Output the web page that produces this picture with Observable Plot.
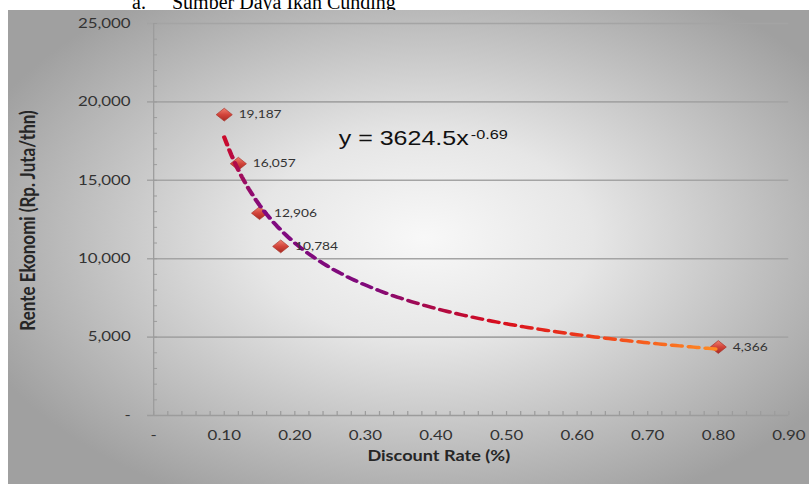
<!DOCTYPE html>
<html><head><meta charset="utf-8">
<script src="https://cdn.jsdelivr.net/npm/d3@7"></script>
<script src="https://cdn.jsdelivr.net/npm/@observablehq/plot@0.6"></script>
<style>
html,body{margin:0;padding:0;background:#fff;}
#wrap{position:relative;width:809px;height:484px;overflow:hidden;}
#title{position:absolute;top:-8px;left:0;width:809px;height:30px;font-family:"Liberation Serif","Times New Roman",serif;font-size:20px;line-height:20px;color:#000;white-space:pre;}
#title span{position:absolute;top:0;}
#bg{position:absolute;left:8px;top:10px;width:801px;height:474px;
  background:radial-gradient(ellipse 60% 62% at 52% 48%, #f8f8f8 0%, #e6e6e6 35%, #a0a0a0 100%);}
#chart{position:absolute;left:0;top:0;width:809px;height:484px;}
</style></head>
<body>
<div id="wrap">
  <div id="title"><span style="left:132px">a.</span><span style="left:172px">Sumber Daya Ikan Cunding</span></div>
  <div id="bg"></div>
  <div id="chart"></div>
</div>
<script>
// ---- data ----
const discountRate = [0.10, 0.12, 0.15, 0.18, 0.80];
const renteEkonomi = [19187, 16057, 12906, 10784, 4366];
const pointLabels = ["19,187", "16,057", "12,906", "10,784", "4,366"];
const xTicks = [0, 0.1, 0.2, 0.3, 0.4, 0.5, 0.6, 0.7, 0.8, 0.9];
const xTickLabels = ["-", "0.10", "0.20", "0.30", "0.40", "0.50", "0.60", "0.70", "0.80", "0.90"];
const yTicks = [0, 5000, 10000, 15000, 20000, 25000];
const yTickLabels = ["-", "5,000", "10,000", "15,000", "20,000", "25,000"];
const trendCoef = 3624.5;   // power trendline shown in the chart: y = 3624.5 x^-0.69
const trendExp = -0.69;
const trendRange = [0.10, 0.80];
const equationText = "y = 3624.5x";
const equationExp = "-0.69";
const xTitle = "Discount Rate (%)";
const yTitle = "Rente Ekonomi (Rp. Juta/thn)";

// minor tick positions
const xMinorTicks = d3.range(46).map(i => i / 50);
const yMinorTicks = d3.range(26).map(i => i * 1000);

const points = discountRate.map((x, i) => ({x, y: renteEkonomi[i], label: pointLabels[i]}));
const trend = d3.range(0, 141).map(i => trendRange[0] + i * (trendRange[1] - trendRange[0]) / 140)
  .map(x => ({x, y: trendCoef * Math.pow(x, trendExp)}));

// the reference picture is stretched horizontally; draw narrower and stretch
const W = 647, H = 484;

const chart = Plot.plot({
  width: W, height: H,
  marginLeft: 122.4, marginRight: 16.6, marginTop: 23, marginBottom: 69,
  style: {background: "transparent", fontFamily: "Lato, 'Open Sans', sans-serif", color: "#333", overflow: "visible"},
  x: {domain: [0, 0.9], axis: null},
  y: {domain: [0, 25000], axis: null},
  marks: [
    Plot.ruleY(yTicks.slice(1), {x1: 0, x2: 0.9, insetLeft: -4.8, stroke: "#a4a4a4", strokeWidth: 1.6}),
    Plot.ruleY(yMinorTicks, {x1: 0, x2: 0, insetRight: -3.2, stroke: "#9c9c9c"}),
    Plot.ruleX(xMinorTicks, {y1: 0, y2: 0, insetTop: -4, stroke: "#9c9c9c"}),
    Plot.ruleX([0], {y1: 0, y2: 25000, stroke: "#9c9c9c"}),
    Plot.ruleY([0], {x1: 0, x2: 0.9, insetLeft: -4.8, stroke: "#9c9c9c", strokeWidth: 1.3}),
    Plot.axisY(yTicks, {anchor: "left", tickSize: 0, tickPadding: 18.4, fontSize: 13.5, fill: "#333",
      tickFormat: d => yTickLabels[yTicks.indexOf(d)], label: null}),
    Plot.axisX(xTicks, {anchor: "bottom", tickSize: 0, tickPadding: 15.4, fontSize: 13.5, fill: "#333",
      tickFormat: d => xTickLabels[xTicks.indexOf(d)], label: null}),
    Plot.dot(points, {x: "x", y: "y", symbol: "diamond2", r: 5.8, fill: "url(#diamondFill)", stroke: "#a8322a", strokeWidth: 0.6}),
    Plot.line(trend, {x: "x", y: "y", stroke: "url(#trendGrad)", strokeWidth: 3.5, strokeDasharray: "8,5.5"}),
    Plot.text(points, {x: "x", y: "y", text: "label", textAnchor: "start", dx: 11.5, fontSize: 11, fill: "#333"}),
    Plot.text([equationText], {frameAnchor: "top-left", dx: 148, dy: 115, textAnchor: "start", lineAnchor: "middle",
      fontSize: 20, fontFamily: "'Liberation Sans', Arial, sans-serif", fill: "#111"}),
    Plot.text([equationExp], {frameAnchor: "top-left", dx: 253.6, dy: 111, textAnchor: "start", lineAnchor: "middle",
      fontSize: 13, fontFamily: "'Liberation Sans', Arial, sans-serif", fill: "#111"}),
    Plot.text([yTitle], {frameAnchor: "left", dx: -100.5, dy: 1, rotate: -90, textAnchor: "middle", fontWeight: "bold",
      fontSize: 17, letterSpacing: 0.5, fill: "#262626"}),
    Plot.text([xTitle], {frameAnchor: "bottom", dy: 45, dx: -26, textAnchor: "middle", fontWeight: "bold",
      fontSize: 14.5, fill: "#262626"})
  ]
});

// gradients for the trend line and diamonds
const svg = d3.select(chart);
const defs = svg.insert("defs", ":first-child");
const tg = defs.append("linearGradient").attr("id", "trendGrad").attr("x1", 0).attr("y1", 0).attr("x2", 1).attr("y2", 0);
[[0, "#cc0a2a"], [0.04, "#9a0c62"], [0.08, "#800a80"], [0.30, "#800a7a"], [0.42, "#aa0a48"],
 [0.55, "#d60c1e"], [0.75, "#f0401a"], [1, "#ff8c24"]].forEach(([o, c]) =>
  tg.append("stop").attr("offset", o).attr("stop-color", c));
const dg = defs.append("linearGradient").attr("id", "diamondFill").attr("x1", 0).attr("y1", 0).attr("x2", 0).attr("y2", 1);
[[0, "#f08070"], [0.5, "#d2443a"], [1, "#a82a22"]].forEach(([o, c]) =>
  dg.append("stop").attr("offset", o).attr("stop-color", c));

chart.setAttribute("preserveAspectRatio", "none");
chart.setAttribute("width", 809);
chart.setAttribute("height", 484);
chart.style.width = "809px";
chart.style.height = "484px";
chart.style.maxWidth = "none";
document.getElementById("chart").appendChild(chart);
</script>
</body></html>
